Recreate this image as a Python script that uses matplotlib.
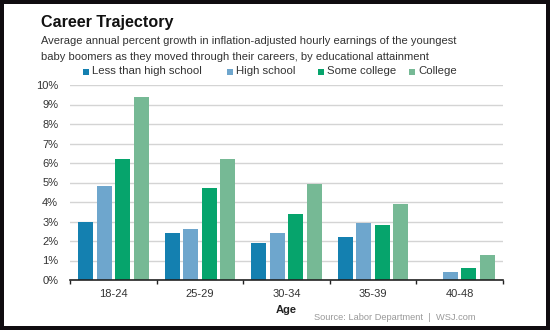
import matplotlib
matplotlib.use("Agg")
import matplotlib.pyplot as plt
import numpy as np
from matplotlib.patches import Rectangle

plt.rcParams['font.family'] = ['Liberation Sans', 'DejaVu Sans']

categories = ["18-24", "25-29", "30-34", "35-39", "40-48"]
series_names = ["Less than high school", "High school", "Some college", "College"]
less_than_hs = [3.0, 2.4, 1.9, 2.2, 0.0]
high_school = [4.8, 2.6, 2.4, 2.9, 0.4]
some_college = [6.2, 4.7, 3.4, 2.8, 0.6]
college = [9.4, 6.2, 4.9, 3.9, 1.3]
yticks = [0, 1, 2, 3, 4, 5, 6, 7, 8, 9, 10]

colors = ["#1480b0", "#6ea6cd", "#06a46c", "#76b995"]
W, H = 550, 330
fig = plt.figure(figsize=(5.5, 3.3), dpi=100, facecolor="#100c10")
bg = fig.add_axes([4 / W, 4 / H, (546 - 4) / W, (326 - 4) / H], zorder=0)
bg.set_facecolor("white")
bg.set_xticks([]); bg.set_yticks([])
for s in bg.spines.values():
    s.set_visible(False)

ax = fig.add_axes([70 / W, (H - 280) / H, (503 - 70) / W, (280 - 85) / H], zorder=2)
ax.set_facecolor("none")

x = np.arange(len(categories))
step = 0.214
bw = 0.173
all_series = [less_than_hs, high_school, some_college, college]
for i, (vals, c, name) in enumerate(zip(all_series, colors, series_names)):
    ax.bar(x + (i - 1.5) * step, vals, width=bw, color=c, label=name, zorder=3)

ax.set_xlim(-0.5, len(categories) - 0.5)
ax.set_ylim(0, 10)
ax.set_yticks(yticks)
ax.set_yticklabels([f"{v}%" for v in yticks])
ax.yaxis.grid(True, color="#d4d4d4", linewidth=1.0, zorder=0)
ax.tick_params(axis="y", length=0, pad=8.5, labelsize=8, labelcolor="#333333")
ax.set_xticks(x)
ax.set_xticklabels(categories)
ax.tick_params(axis="x", which="major", length=0, pad=6.5, labelsize=8, labelcolor="#333333")
ax.set_xticks(np.arange(-0.5, len(categories)), minor=True)
ax.tick_params(axis="x", which="minor", length=3, width=1, direction="out", color="#222222")
for s in ["top", "right", "left"]:
    ax.spines[s].set_visible(False)
ax.spines["bottom"].set_color("#222222")
ax.spines["bottom"].set_linewidth(1.2)
ax.spines["bottom"].set_zorder(4)

ax.set_xlabel("Age", fontsize=8, fontweight="bold", color="#222222", labelpad=4)

fig.text(41 / W, 1 - 27.5 / H, "Career Trajectory", fontsize=11.6, fontweight="bold",
         color="#111111", va="baseline", ha="left", zorder=5)
fig.text(41 / W, 1 - 44.5 / H,
         "Average annual percent growth in inflation-adjusted hourly earnings of the youngest",
         fontsize=8.0, color="#333333", va="baseline", ha="left", zorder=5)
fig.text(41 / W, 1 - 60 / H,
         "baby boomers as they moved through their careers, by educational attainment",
         fontsize=8.0, color="#333333", va="baseline", ha="left", zorder=5)

leg_x = [83, 227, 318, 409]
for hx, c, name in zip(leg_x, colors, series_names):
    fig.add_artist(Rectangle((hx / W, 1 - 74.5 / H), 6 / W, 6 / H,
                             transform=fig.transFigure, facecolor=c, edgecolor="none",
                             zorder=5))
    fig.text((hx + 9) / W, 1 - 71.5 / H, name, fontsize=8.2, color="#333333",
             va="center", ha="left", zorder=5)

fig.text(475 / W, 1 - 317 / H, "Source: Labor Department  |  WSJ.com", fontsize=6.7,
         color="#999999", ha="right", va="center", zorder=5)

fig.savefig("out.png", dpi=100, facecolor=fig.get_facecolor())
